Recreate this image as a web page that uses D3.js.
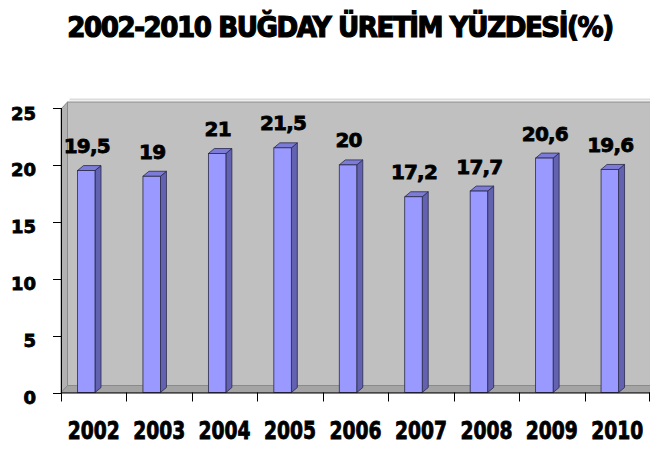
<!DOCTYPE html>
<html>
<head>
<meta charset="utf-8">
<script src="https://cdn.jsdelivr.net/npm/d3@7/dist/d3.min.js"></script>
<style>
  html, body { margin: 0; padding: 0; background: #ffffff; }
  svg { display: block; }
  text { font-family: "DejaVu Sans", "Liberation Sans", sans-serif; font-weight: bold; fill: #000; stroke: #000; paint-order: stroke; }
  text.cond { font-family: "DejaVu Sans Condensed", "Liberation Sans Narrow", "DejaVu Sans", sans-serif; }
</style>
</head>
<body>
<svg id="chart" width="650" height="449"></svg>
<script>
const chartTitle = "2002-2010 BUĞDAY ÜRETİM YÜZDESİ(%)";
const years = ["2002", "2003", "2004", "2005", "2006", "2007", "2008", "2009", "2010"];
const values = [19.5, 19, 21, 21.5, 20, 17.2, 17.7, 20.6, 19.6];
const valueLabels = ["19,5", "19", "21", "21,5", "20", "17,2", "17,7", "20,6", "19,6"];
const yTicks = [0, 5, 10, 15, 20, 25];

const svg = d3.select("#chart");
const W = 650;

const x = d3.scaleBand().domain(years).range([61, 650]).paddingInner(0).paddingOuter(0);
const y = d3.scaleLinear().domain([0, 25]).range([392.5, 108]);

const dxW = 6.5, dyW = -7;   // wall depth
const dxB = 6, dyB = -5;     // bar depth
const barOff = 16.5, barW = 17.5;

const y0 = y(0), yTop = y(25);
const xL = x.range()[0];

// side wall (left)
svg.append("path")
  .attr("d", `M${xL},${y0} L${xL + dxW},${y0 + dyW} L${xL + dxW},${yTop - 6} L${xL},${yTop + 1} Z`)
  .attr("fill", "#b2b2b2").attr("stroke", "#8a8a8a").attr("stroke-width", 1);
// back wall
svg.append("rect")
  .attr("x", xL + dxW).attr("y", yTop - 6)
  .attr("width", W - (xL + dxW) + 2).attr("height", (y0 + dyW) - (yTop - 6))
  .attr("fill", "#c0c0c0").attr("stroke", "#8a8a8a").attr("stroke-width", 1);
// top light edge of wall
svg.append("line")
  .attr("x1", xL + dxW + 2).attr("x2", W).attr("y1", yTop - 8.5).attr("y2", yTop - 8.5)
  .attr("stroke", "#dcdcdc").attr("stroke-width", 2);
// floor
svg.append("path")
  .attr("d", `M${xL},${y0} L${xL + dxW},${y0 + dyW} L${W + 2},${y0 + dyW} L${W + 2},${y0} Z`)
  .attr("fill", "#a4a4a4").attr("stroke", "#8a8a8a").attr("stroke-width", 1);

// bars
const bars = svg.append("g").selectAll("g").data(years).join("g");
bars.each(function(d, i) {
  const g = d3.select(this);
  const bx = x(d) + barOff;
  const yv = y(values[i]);
  g.append("path")
    .attr("d", `M${bx + barW},${yv} L${bx + barW + dxB},${yv + dyB} L${bx + barW + dxB},${y0 + dyB} L${bx + barW},${y0} Z`)
    .attr("fill", "#6262b0").attr("stroke", "#2a2a4a").attr("stroke-width", 0.8);
  g.append("path")
    .attr("d", `M${bx},${yv} L${bx + dxB},${yv + dyB} L${bx + barW + dxB},${yv + dyB} L${bx + barW},${yv} Z`)
    .attr("fill", "#7c7cd8").attr("stroke", "#2a2a4a").attr("stroke-width", 0.8);
  g.append("rect")
    .attr("x", bx).attr("y", yv).attr("width", barW).attr("height", y0 - yv)
    .attr("fill", "#9999ff").attr("stroke", "#2a2a4a").attr("stroke-width", 0.8);
  g.append("text")
    .attr("x", bx + barW / 2 + 0.5).attr("y", yv - 17.5)
    .attr("text-anchor", "middle").attr("font-size", 20).attr("letter-spacing", -0.8)
    .attr("stroke-width", 0.8)
    .text(valueLabels[i]);
});

// y axis
svg.append("line").attr("x1", xL + 0.5).attr("x2", xL + 0.5).attr("y1", yTop).attr("y2", y0 + 0.5)
  .attr("stroke", "#000").attr("stroke-width", 1);
const yAxisG = svg.append("g");
yAxisG.selectAll("line").data(yTicks).join("line")
  .attr("x1", 53).attr("x2", xL + 0.5)
  .attr("y1", d => Math.round(y(d)) + 0.5).attr("y2", d => Math.round(y(d)) + 0.5)
  .attr("stroke", "#000");
yAxisG.selectAll("text").data(yTicks).join("text")
  .attr("x", 36).attr("y", d => y(d) + 11.5)
  .attr("text-anchor", "end").attr("font-size", 18)
  .attr("stroke-width", 0.8)
  .text(d => d);

// x axis
svg.append("line").attr("x1", xL).attr("x2", W).attr("y1", y0 + 0.5).attr("y2", y0 + 0.5)
  .attr("stroke", "#000").attr("stroke-width", 1);
const xTickPos = years.map(d => x(d)).concat([x.range()[1] - 1]);
svg.append("g").selectAll("line").data(xTickPos).join("line")
  .attr("x1", d => Math.round(d) + 0.5).attr("x2", d => Math.round(d) + 0.5)
  .attr("y1", y0).attr("y2", y0 + 9)
  .attr("stroke", "#000");
svg.append("g").selectAll("text").data(years).join("text")
  .attr("class", "cond")
  .attr("x", d => x(d) + x.bandwidth() / 2).attr("y", 439)
  .attr("text-anchor", "middle").attr("font-size", 24)
  .attr("textLength", 52).attr("lengthAdjust", "spacingAndGlyphs")
  .attr("stroke-width", 0.8)
  .text(d => d);

// title
svg.append("text")
  .attr("class", "cond")
  .attr("x", 340).attr("y", 37)
  .attr("text-anchor", "middle").attr("font-size", 29)
  .attr("letter-spacing", -1.4)
  .attr("stroke-width", 1.2)
  .text(chartTitle);
</script>
</body>
</html>
